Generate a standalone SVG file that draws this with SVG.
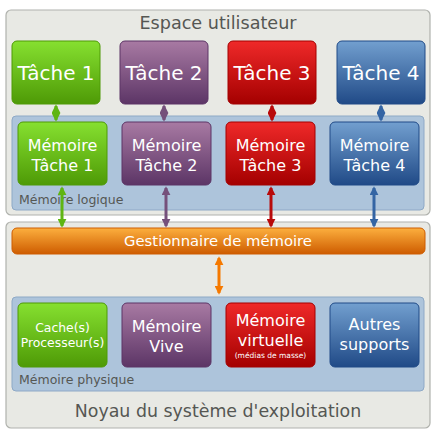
<svg xmlns="http://www.w3.org/2000/svg" width="432" height="430" viewBox="0 0 432 430">
<defs>
<linearGradient id="gG" x1="0" y1="0" x2="0" y2="1"><stop offset="0" stop-color="#86e030"/><stop offset="1" stop-color="#4e9a06"/></linearGradient>
<linearGradient id="gP" x1="0" y1="0" x2="0" y2="1"><stop offset="0" stop-color="#a87aa3"/><stop offset="1" stop-color="#5c3566"/></linearGradient>
<linearGradient id="gR" x1="0" y1="0" x2="0" y2="1"><stop offset="0" stop-color="#ef2929"/><stop offset="1" stop-color="#a40000"/></linearGradient>
<linearGradient id="gB" x1="0" y1="0" x2="0" y2="1"><stop offset="0" stop-color="#729fcf"/><stop offset="1" stop-color="#204a87"/></linearGradient>
<linearGradient id="gO" x1="0" y1="0" x2="0" y2="1"><stop offset="0" stop-color="#fcaf3e"/><stop offset="1" stop-color="#ce5c00"/></linearGradient>
<marker id="aG" viewBox="0 0 10 10" refX="8" refY="5" markerWidth="3" markerHeight="3" orient="auto-start-reverse"><path d="M0,0 L10,5 L0,10 z" fill="#5fb512"/></marker>
<marker id="aP" viewBox="0 0 10 10" refX="8" refY="5" markerWidth="3" markerHeight="3" orient="auto-start-reverse"><path d="M0,0 L10,5 L0,10 z" fill="#75507b"/></marker>
<marker id="aR" viewBox="0 0 10 10" refX="8" refY="5" markerWidth="3" markerHeight="3" orient="auto-start-reverse"><path d="M0,0 L10,5 L0,10 z" fill="#b80a0a"/></marker>
<marker id="aB" viewBox="0 0 10 10" refX="8" refY="5" markerWidth="3" markerHeight="3" orient="auto-start-reverse"><path d="M0,0 L10,5 L0,10 z" fill="#3465a4"/></marker>
<marker id="aO" viewBox="0 0 10 10" refX="8" refY="5" markerWidth="3" markerHeight="3" orient="auto-start-reverse"><path d="M0,0 L10,5 L0,10 z" fill="#f57900"/></marker>
</defs>
<style>
text{font-family:"DejaVu Sans",sans-serif;}
.panel{fill:#e8e9e4;stroke:#b0b2ad;stroke-width:1.2;}
.band{fill:#adc4db;stroke:#8ea9c6;stroke-width:1;}
.t{fill:#555753;}
.w{fill:#ffffff;text-anchor:middle;}
.big{font-size:20px;}
.mid{font-size:16px;}
.lab{font-size:12.5px;fill:#555753;}
.g{fill:url(#gG);stroke:#4e9a06;}
.p{fill:url(#gP);stroke:#5c3566;}
.r{fill:url(#gR);stroke:#a40000;}
.b{fill:url(#gB);stroke:#204a87;}
.o{fill:url(#gO);stroke:#ce5c00;}
.c{stroke-width:3;fill:none;}
</style>

<g id="user-space">
<rect class="panel" x="6" y="10" width="424" height="205" rx="5"/>
<text class="t" x="218" y="29" font-size="17.6" text-anchor="middle">Espace utilisateur</text>
</g>
<g id="kernel">
<rect class="panel" x="6" y="222" width="424" height="206" rx="5"/>
<text class="t" x="218" y="417" font-size="17.4" text-anchor="middle">Noyau du système d'exploitation</text>
</g>
<g id="memoire-logique">
<rect class="band" x="12" y="116" width="412" height="94" rx="4"/>
<text class="lab" x="19" y="204">Mémoire logique</text>
</g>
<g id="memoire-physique">
<rect class="band" x="12" y="297" width="412" height="94" rx="4"/>
<text class="lab" x="19" y="384">Mémoire physique</text>
</g>

<g id="tache1"><rect class="g" x="12" y="41" width="88" height="63" rx="5"/><text class="w big" x="56" y="80">Tâche 1</text></g>
<g id="tache2"><rect class="p" x="120" y="41" width="88" height="63" rx="5"/><text class="w big" x="164" y="80">Tâche 2</text></g>
<g id="tache3"><rect class="r" x="228" y="41" width="88" height="63" rx="5"/><text class="w big" x="272" y="80">Tâche 3</text></g>
<g id="tache4"><rect class="b" x="337" y="41" width="88" height="63" rx="5"/><text class="w big" x="381" y="80">Tâche 4</text></g>

<g id="mem1"><rect class="g" x="18" y="122" width="89" height="63" rx="5"/><text class="w mid" x="62.5" y="151">Mémoire</text><text class="w mid" x="62.5" y="171">Tâche 1</text></g>
<g id="mem2"><rect class="p" x="122" y="122" width="89" height="63" rx="5"/><text class="w mid" x="166.5" y="151">Mémoire</text><text class="w mid" x="166.5" y="171">Tâche 2</text></g>
<g id="mem3"><rect class="r" x="226" y="122" width="89" height="63" rx="5"/><text class="w mid" x="270.5" y="151">Mémoire</text><text class="w mid" x="270.5" y="171">Tâche 3</text></g>
<g id="mem4"><rect class="b" x="330" y="122" width="89" height="63" rx="5"/><text class="w mid" x="374.5" y="151">Mémoire</text><text class="w mid" x="374.5" y="171">Tâche 4</text></g>

<g id="gestionnaire"><rect class="o" x="12" y="228" width="413" height="26" rx="5"/><text class="w" font-size="14.8" x="218" y="246">Gestionnaire de mémoire</text></g>

<g id="cache"><rect class="g" x="18" y="303" width="89" height="64" rx="5"/><text class="w" font-size="12.4" x="62.5" y="332">Cache(s)</text><text class="w" font-size="12.4" x="62.5" y="347">Processeur(s)</text></g>
<g id="vive"><rect class="p" x="122" y="303" width="89" height="64" rx="5"/><text class="w mid" x="166.5" y="332">Mémoire</text><text class="w mid" x="166.5" y="352">Vive</text></g>
<g id="virtuelle"><rect class="r" x="226" y="303" width="89" height="64" rx="5"/><text class="w mid" x="270.5" y="326">Mémoire</text><text class="w mid" x="270.5" y="346">virtuelle</text><text class="w" font-size="7.5" x="270.5" y="358">(médias de masse)</text></g>
<g id="autres"><rect class="b" x="330" y="303" width="89" height="64" rx="5"/><text class="w mid" x="374.5" y="330">Autres</text><text class="w mid" x="374.5" y="350">supports</text></g>

<g id="connectors">
<line class="c" x1="56" y1="106" x2="56" y2="120" stroke="#5fb512" marker-start="url(#aG)" marker-end="url(#aG)"/>
<line class="c" x1="164" y1="106" x2="164" y2="120" stroke="#75507b" marker-start="url(#aP)" marker-end="url(#aP)"/>
<line class="c" x1="272" y1="106" x2="272" y2="120" stroke="#b80a0a" marker-start="url(#aR)" marker-end="url(#aR)"/>
<line class="c" x1="381" y1="106" x2="381" y2="120" stroke="#3465a4" marker-start="url(#aB)" marker-end="url(#aB)"/>
<line class="c" x1="62" y1="188" x2="62" y2="226" stroke="#5fb512" marker-start="url(#aG)" marker-end="url(#aG)"/>
<line class="c" x1="166" y1="188" x2="166" y2="226" stroke="#75507b" marker-start="url(#aP)" marker-end="url(#aP)"/>
<line class="c" x1="271" y1="188" x2="271" y2="226" stroke="#b80a0a" marker-start="url(#aR)" marker-end="url(#aR)"/>
<line class="c" x1="374" y1="188" x2="374" y2="226" stroke="#3465a4" marker-start="url(#aB)" marker-end="url(#aB)"/>
<line class="c" x1="219" y1="258" x2="219" y2="293" stroke="#f57900" marker-start="url(#aO)" marker-end="url(#aO)"/>
</g>
</svg>
